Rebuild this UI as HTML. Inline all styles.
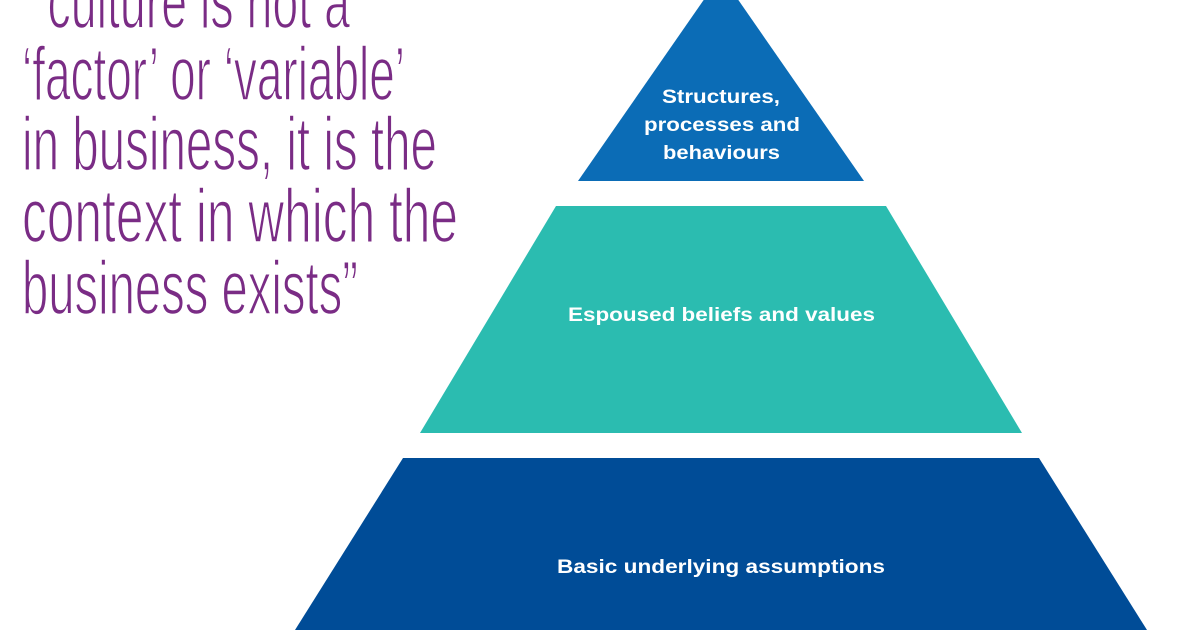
<!DOCTYPE html>
<html><head><meta charset="utf-8"><style>
html,body{margin:0;padding:0;background:#fff;}
svg{display:block}
</style></head><body>
<svg width="1200" height="630" viewBox="0 0 1200 630" xmlns="http://www.w3.org/2000/svg">
<rect width="1200" height="630" fill="#fff"/>
<g font-family="'Liberation Sans Narrow','Liberation Sans',sans-serif" font-size="76" fill="#7a2c85" stroke="#fff" stroke-width="1.6" paint-order="normal" font-weight="normal">
<text x="32" y="28" textLength="318" lengthAdjust="spacingAndGlyphs">“culture is not a</text>
<text x="22" y="100" textLength="383" lengthAdjust="spacingAndGlyphs">‘factor’ or ‘variable’</text>
<text x="22" y="170" textLength="415" lengthAdjust="spacingAndGlyphs">in business, it is the</text>
<text x="22" y="242" textLength="436" lengthAdjust="spacingAndGlyphs">context in which the</text>
<text x="22" y="314" textLength="336" lengthAdjust="spacingAndGlyphs">business exists”</text>
</g>
<polygon points="721,-25 864,181 578,181" fill="#0b6cb6"/>
<polygon points="556,206 886,206 1022,433 420,433" fill="#2bbcb0"/>
<polygon points="403,458 1039,458 1147,630 295,630" fill="#004c97"/>
<g font-family="'Liberation Sans',sans-serif" font-weight="bold" font-size="19" fill="#fff">
<text x="662" y="103" textLength="118" lengthAdjust="spacingAndGlyphs">Structures,</text>
<text x="644" y="131" textLength="156" lengthAdjust="spacingAndGlyphs">processes and</text>
<text x="663" y="159" textLength="117" lengthAdjust="spacingAndGlyphs">behaviours</text>
<text x="568" y="321" textLength="307" lengthAdjust="spacingAndGlyphs">Espoused beliefs and values</text>
<text x="557" y="573" textLength="328" lengthAdjust="spacingAndGlyphs">Basic underlying assumptions</text>
</g>
</svg>
</body></html>
